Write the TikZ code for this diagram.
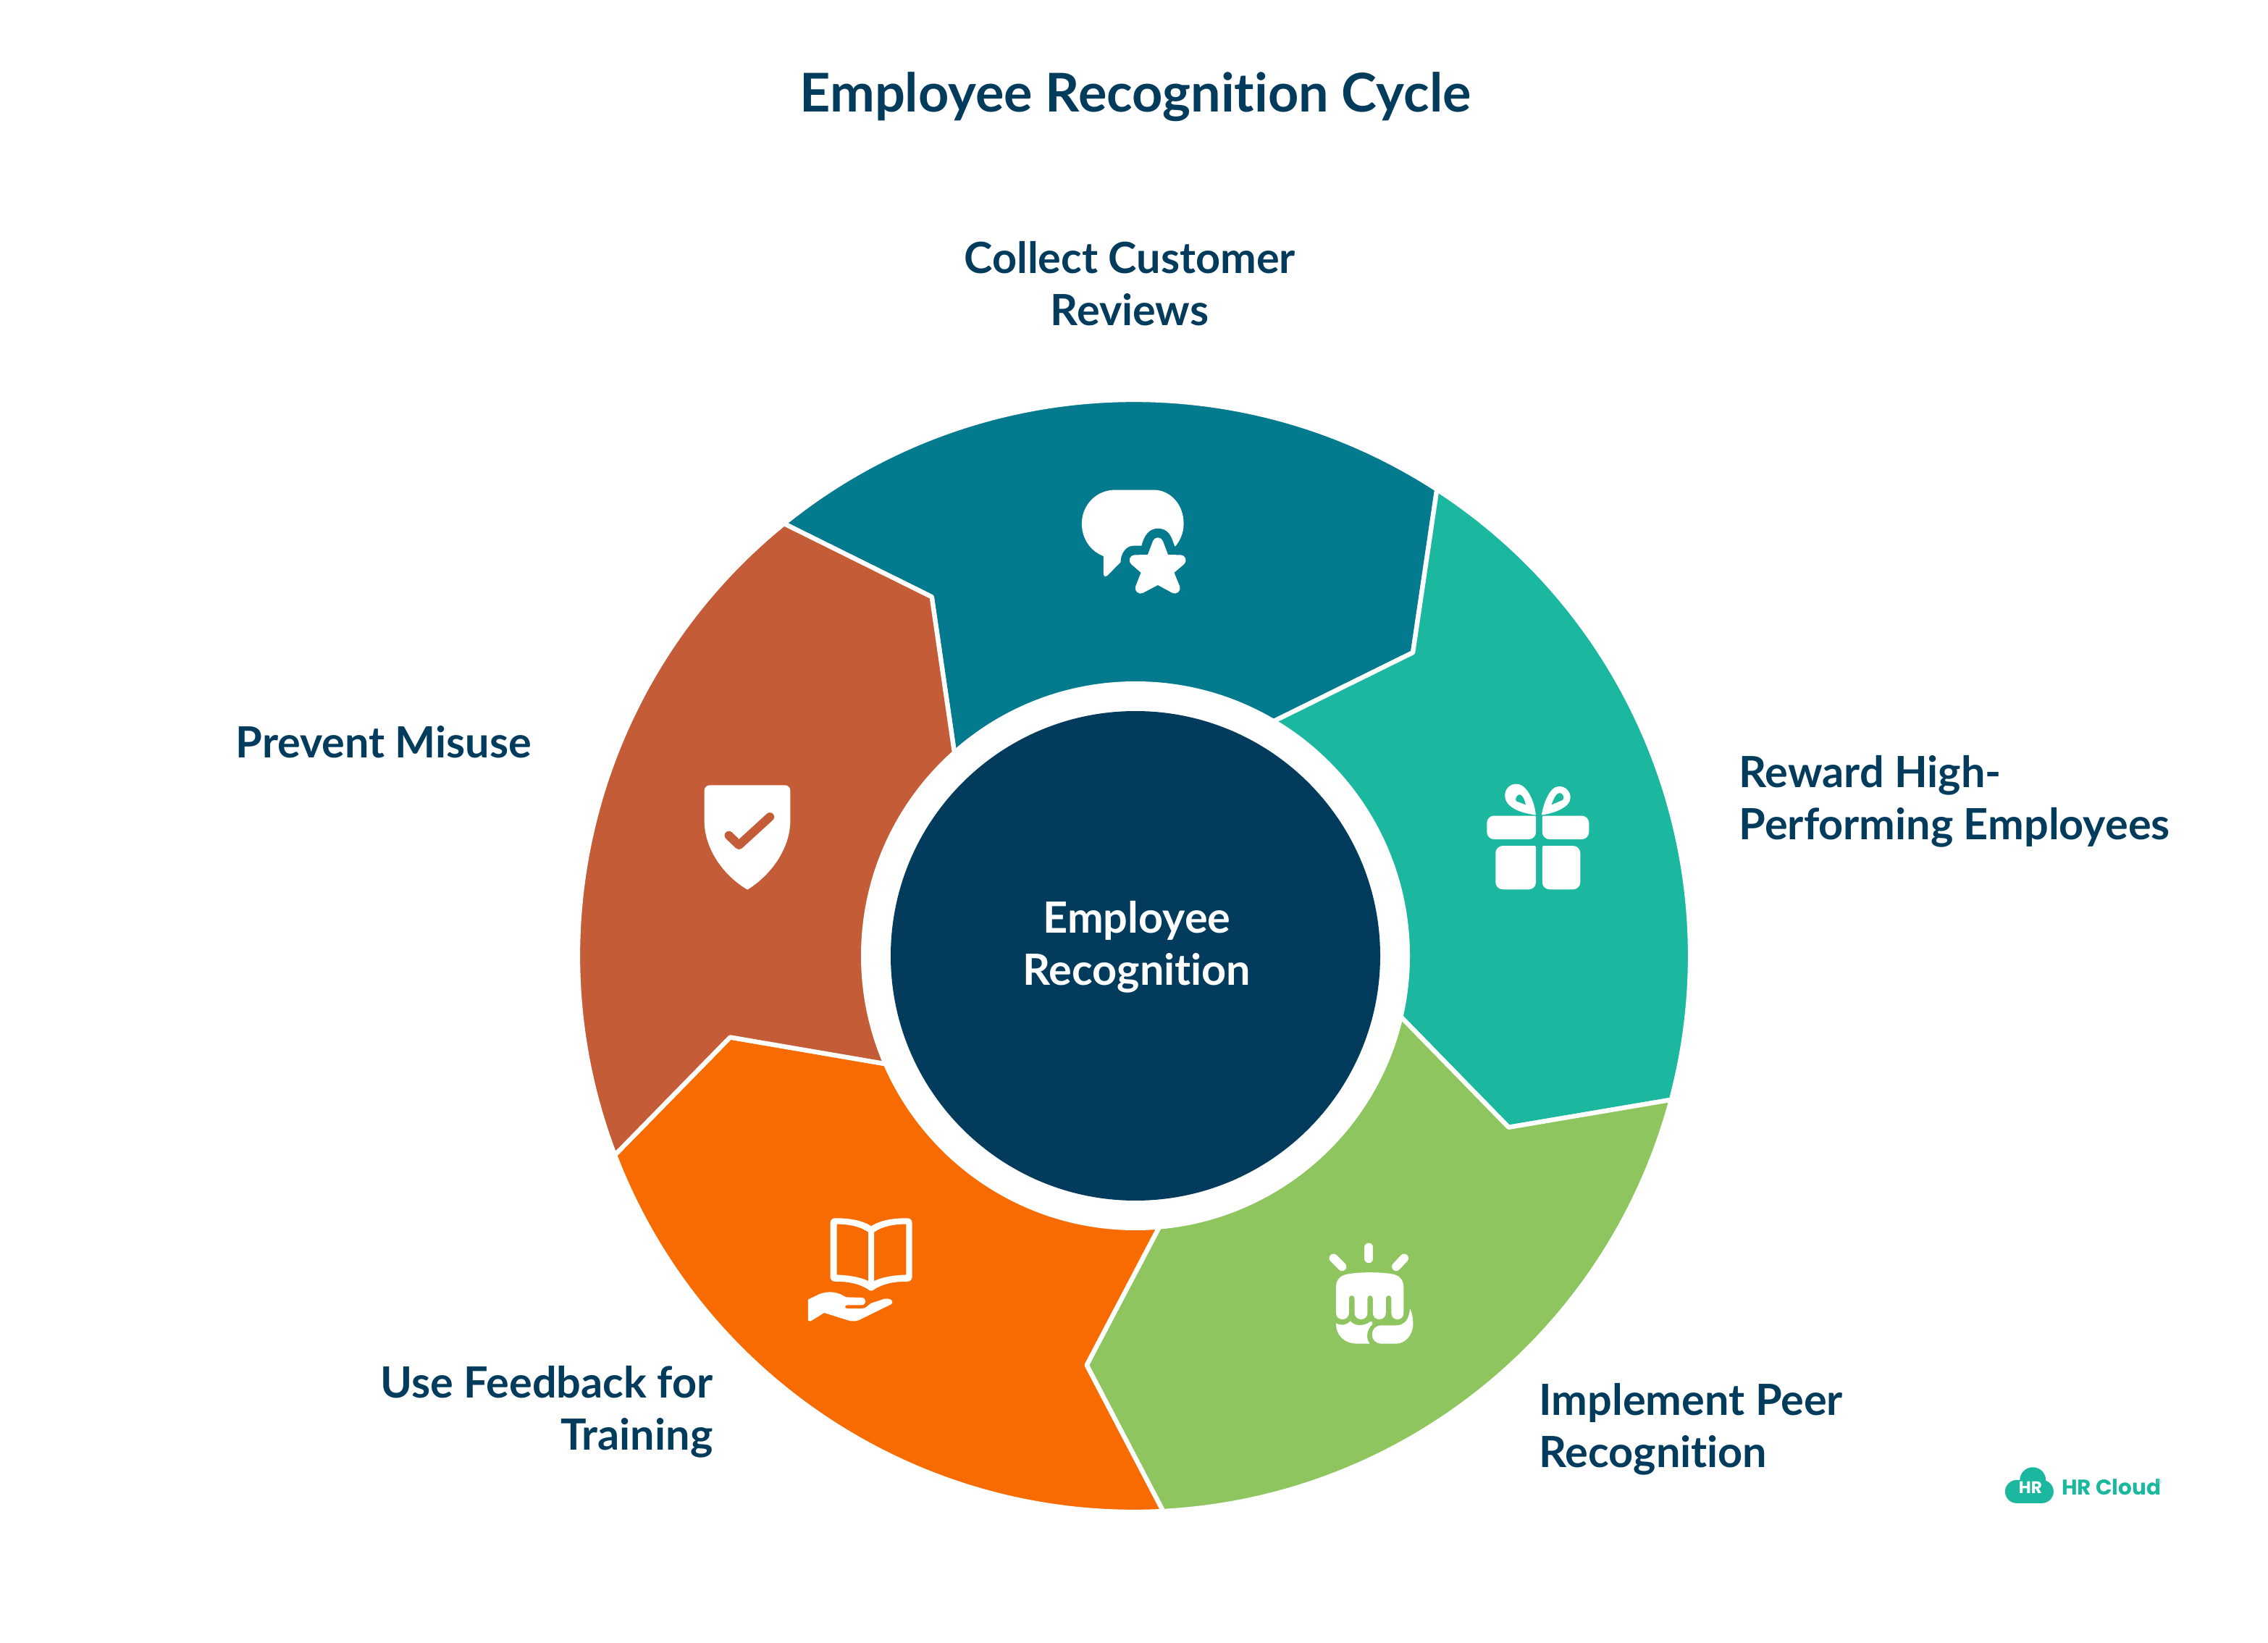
\documentclass[tikz,border=0pt]{standalone}
\usepackage{fontspec}
\setmainfont{Lato}[Ligatures=NoCommon]
\newfontfamily\logofont{Poppins}
\definecolor{navy}{HTML}{023B5C}
\definecolor{petrol}{HTML}{047A8E}
\definecolor{jade}{HTML}{1BB89F}
\definecolor{leaf}{HTML}{8EC55E}
\definecolor{tangerine}{HTML}{F76B00}
\definecolor{rust}{HTML}{C45C37}
\tikzset{
  segment/.style={draw=white,line width=1.8pt,line join=round},
  caption/.style={text=navy,inner sep=0pt,font=\bfseries\fontsize{16.9}{20.5}\selectfont},
  icon/.style={x=0.0033333cm,y=-0.0033333cm,fill=white,draw=none},
}
\begin{document}
\begin{tikzpicture}
  \useasboundingbox (0,0) rectangle (31.32,22.68);
  \node[text=navy,inner sep=0pt,font=\bfseries\fontsize{21}{24}\selectfont] (title) at (15.68,21.34) {Employee Recognition Cycle};
  \begin{scope}[shift={(15.66,9.48)}]
    \draw[segment,fill=petrol] (57:7.68) arc (57:129:7.68) -- (119.4:5.69) -- (135.5:3.39) -- (63.5:3.39) -- (47.4:5.69) -- cycle;
    \draw[segment,fill=jade] (-15:7.68) arc (-15:57:7.68) -- (47.4:5.69) -- (63.5:3.39) -- (-8.5:3.39) -- (-24.6:5.69) -- cycle;
    \draw[segment,fill=leaf] (-87:7.68) arc (-87:-15:7.68) -- (-24.6:5.69) -- (-8.5:3.39) -- (-80.5:3.39) -- (-96.6:5.69) -- cycle;
    \draw[segment,fill=tangerine] (-159:7.68) arc (-159:-87:7.68) -- (-96.6:5.69) -- (-80.5:3.39) -- (-152.5:3.39) -- (-168.6:5.69) -- cycle;
    \draw[segment,fill=rust] (129:7.68) arc (129:201:7.68) -- (191.4:5.69) -- (207.5:3.39) -- (135.5:3.39) -- (119.4:5.69) -- cycle;
  \end{scope}
  \begin{scope}[shift={(15.68,9.48)}]
    \fill[white] (0,0) circle (3.79);
    \node[circle,fill=navy,minimum size=6.76cm,inner sep=0pt] (hub) at (0,0) {};
  \end{scope}
  \node[inner sep=0pt,text=white,align=center,font=\bfseries\fontsize{16.9}{20.5}\selectfont] (hublabel) at ([xshift=.02cm,yshift=.12cm]hub.center) {Employee\\Recognition};
  \node[caption,align=center] (reviews) at (15.60,18.76) {Collect Customer\\Reviews};
  \node[caption,align=left,anchor=west] (reward) at (24.01,11.61) {Reward High-\\Performing Employees};
  \node[caption,align=left,anchor=west] (peer) at (21.25,2.94) {Implement Peer\\Recognition};
  \node[caption,align=right,anchor=east] (training) at (9.85,3.18) {Use Feedback for\\Training};
  \node[caption,anchor=west] (misuse) at (3.25,12.43) {Prevent Misuse};
  % speech bubble
  \begin{scope}[shift={(14.40,16.28)},icon]
    \fill[white] (300,110) -- (460,110) .. controls (530,110) and (585,170) .. (585,250) .. controls (585,290) and (570,320) .. (550,345) .. controls (540,340) and (540,270) .. (478,270) .. controls (440,270) and (420,300) .. (410,342) -- (375,342) .. controls (345,342) and (323,375) .. (323,410) -- (268,466) .. controls (260,472) and (252,468) .. (252,458) -- (252,385) .. controls (200,365) and (162,315) .. (162,250) .. controls (162,170) and (225,110) .. (300,110) -- cycle;
    \draw[white,fill=white,line width=.147cm,line join=round] (478,330) -- (505,401) -- (572,402) -- (519,447) -- (548,518) -- (478,480) -- (406,518) -- (434,447) -- (382,402) -- (451,401) -- cycle;
  \end{scope}
  % gift
  \begin{scope}[shift={(20.20,12.08)},icon]
    \fill[white,rounded corners=.1cm] (304,200) -- (100,200) -- (100,298) -- (304,298) [rounded corners=.015cm] -- cycle;
    \fill[white,rounded corners=.1cm] (330,200) -- (524,200) -- (524,298) -- (330,298) [rounded corners=.015cm] -- cycle;
    \fill[white,rounded corners=.1cm] (304,325) -- (136,325) -- (136,506) -- (304,506) [rounded corners=.015cm] -- cycle;
    \fill[white,rounded corners=.1cm] (330,325) -- (488,325) -- (488,506) -- (330,506) [rounded corners=.015cm] -- cycle;
    \fill[white,even odd rule] (303,197) .. controls (300,150) and (270,68) .. (222,68) .. controls (195,68) and (175,90) .. (175,115) .. controls (175,170) and (250,190) .. (303,197) -- cycle (262,155) .. controls (255,125) and (245,112) .. (235,112) .. controls (225,112) and (215,130) .. (222,140) -- cycle;
    \fill[white,even odd rule] (327,197) .. controls (335,150) and (360,78) .. (400,78) .. controls (428,78) and (447,100) .. (447,125) .. controls (447,165) and (380,190) .. (327,197) -- cycle (368,155) .. controls (378,125) and (390,105) .. (402,105) .. controls (415,105) and (425,125) .. (415,135) -- cycle;
  \end{scope}
  % fist
  \begin{scope}[shift={(18.00,5.78)},icon]
    \draw[white,line width=.12cm,line cap=round] (272,98) -- (272,145);
    \draw[white,line width=.12cm,line cap=round] (125,143) -- (160,178);
    \draw[white,line width=.12cm,line cap=round] (418,143) -- (385,178);
    \fill[white] (135,265) .. controls (135,225) and (160,212) .. (190,208) .. controls (240,200) and (310,200) .. (365,208) .. controls (395,212) and (416,230) .. (416,265) -- (416,370) .. controls (416,386) and (405,397) .. (390,397) .. controls (375,397) and (365,386) .. (365,370) -- (365,310) .. controls (365,294) and (342,294) .. (342,310) -- (342,370) .. controls (342,386) and (330,397) .. (315,397) .. controls (300,397) and (288,386) .. (288,370) -- (288,310) .. controls (288,294) and (266,294) .. (266,310) -- (266,370) .. controls (266,386) and (254,397) .. (239,397) .. controls (224,397) and (212,386) .. (212,370) -- (212,310) .. controls (212,294) and (189,294) .. (189,310) -- (189,370) .. controls (189,386) and (177,397) .. (162,397) .. controls (147,397) and (135,386) .. (135,370) -- cycle;
    \fill[white] (135,413) .. controls (150,422) and (175,425) .. (195,404) .. controls (210,425) and (250,428) .. (280,405) .. controls (285,405) and (290,412) .. (286,418) .. controls (262,440) and (258,475) .. (275,498) -- (225,498) .. controls (170,498) and (135,465) .. (135,413) -- cycle;
    \fill[white] (325,422) -- (385,422) .. controls (420,422) and (440,395) .. (442,352) .. controls (450,365) and (455,390) .. (455,415) .. controls (455,465) and (420,498) .. (385,498) -- (325,498) .. controls (300,498) and (285,482) .. (285,460) .. controls (285,438) and (300,422) .. (325,422) -- cycle;
  \end{scope}
  % book and hand
  \begin{scope}[shift={(10.90,6.08)},icon]
    \fill[white,even odd rule] (190,67) .. controls (250,67) and (300,75) .. (340,100) .. controls (380,75) and (430,67) .. (490,67) .. controls (502,67) and (510,75) .. (510,87) -- (510,310) .. controls (510,322) and (502,330) .. (490,330) .. controls (430,330) and (385,340) .. (345,368) -- (335,368) .. controls (295,340) and (250,330) .. (190,330) .. controls (178,330) and (170,322) .. (170,310) -- (170,87) .. controls (170,75) and (178,67) .. (190,67) -- cycle
      (197,92) .. controls (250,92) and (295,102) .. (328,125) -- (328,328) .. controls (295,312) and (250,304) .. (197,302) -- cycle
      (352,125) .. controls (385,102) and (430,92) .. (485,92) -- (485,302) .. controls (430,304) and (385,312) .. (352,328) -- cycle;
    \fill[white] (78,405) -- (125,382) .. controls (165,368) and (200,372) .. (235,395) -- (300,397) .. controls (322,397) and (322,428) .. (300,428) -- (242,428) .. controls (228,428) and (228,442) .. (242,442) -- (300,442) .. controls (320,442) and (325,428) .. (340,420) -- (395,402) .. controls (420,398) and (438,412) .. (422,425) -- (300,485) .. controls (280,497) and (260,497) .. (240,490) -- (145,460) -- (88,495) -- (78,492) -- cycle;
  \end{scope}
  % shield
  \begin{scope}[shift={(9.50,12.08)},icon]
    \fill[white] (92,73) -- (402,73) .. controls (415,73) and (425,83) .. (425,96) -- (425,220) .. controls (425,340) and (340,450) .. (247,507) .. controls (150,450) and (68,340) .. (68,220) -- (68,96) .. controls (68,83) and (78,73) .. (92,73) -- cycle;
    \draw[rust,line width=.12cm,line cap=round,line join=round] (170,282) -- (212,322) -- (340,205);
  \end{scope}
  % logo
  \begin{scope}[shift={(27.50,2.58)},icon]
    \fill[jade] (105,150) circle (.16cm) (172,103) circle (.18cm) (210,150) circle (.16cm) (105,130) rectangle (210,198);
    \node[inner sep=0pt,text=white,font=\logofont\bfseries\fontsize{6.6}{7}\selectfont] (logomark) at (162,132) {HR};
    \node[inner sep=0pt,anchor=west,text=jade,font=\logofont\bfseries\fontsize{8.4}{9}\selectfont] (logoname) at (290,132) {HR Cloud};
    \node[inner sep=0pt,text=jade!60,font=\fontsize{2.5}{3}\selectfont] (logomarkreg) at (698,108) {®};
  \end{scope}
\end{tikzpicture}
\end{document}
